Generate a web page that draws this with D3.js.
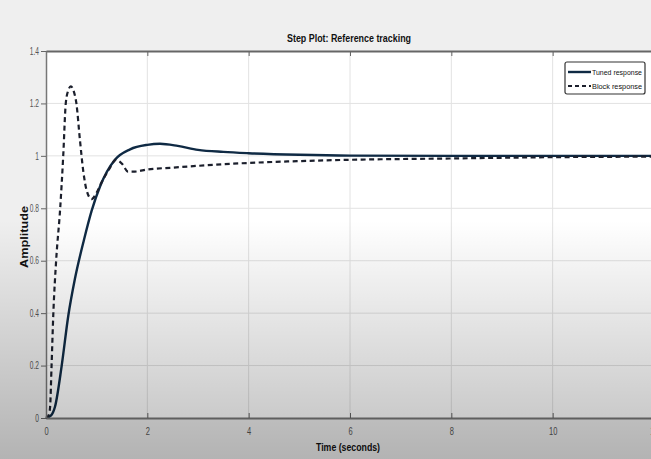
<!DOCTYPE html>
<html>
<head>
<meta charset="utf-8">
<script src="https://cdn.jsdelivr.net/npm/d3@7"></script>
<style>
  html, body { margin: 0; padding: 0; background: #efefef; }
  svg { display: block; font-family: "Liberation Sans", Arial, sans-serif; }
</style>
</head>
<body>
<div id="chart"></div>
<script>
// step response values
var tunedTime = [0, 0.1, 0.18, 0.31, 0.44, 0.57, 0.75, 0.9, 1.07, 1.36, 1.66, 2.0, 2.25, 2.6, 3.0, 3.5, 4.0, 5.0, 6.0, 8.0, 10.0, 12.0];
var tunedAmp  = [0, 0.01, 0.045, 0.2, 0.39, 0.53, 0.68, 0.79, 0.885, 0.985, 1.025, 1.042, 1.046, 1.038, 1.023, 1.015, 1.01, 1.004, 1.001, 1.0, 1.0, 1.0];

var blockTime = [0, 0.05, 0.08, 0.11, 0.145, 0.2, 0.28, 0.34, 0.39, 0.44, 0.49, 0.55, 0.6, 0.67, 0.74, 0.8, 0.9, 1.0, 1.1, 1.25, 1.38, 1.5, 1.62, 1.75, 2.0, 2.5, 3.0, 4.0, 5.0, 6.0, 8.0, 10.0, 12.0];
var blockAmp  = [0, 0.01, 0.04, 0.2, 0.4, 0.6, 0.8, 1.0, 1.2, 1.25, 1.265, 1.245, 1.2, 1.06, 0.935, 0.87, 0.835, 0.86, 0.9, 0.95, 0.985, 0.97, 0.94, 0.94, 0.948, 0.955, 0.962, 0.973, 0.98, 0.985, 0.99, 0.995, 0.997];

var xTicks = [0, 2, 4, 6, 8, 10, 12];
var yTicks = [0, 0.2, 0.4, 0.6, 0.8, 1, 1.2, 1.4];
var seriesNames = ["Tuned response", "Block response"];

var width = 651, height = 459;
var margin = { top: 51, right: -3, bottom: 41, left: 46 };

var svg = d3.select("#chart").append("svg")
    .attr("width", width)
    .attr("height", height);

var defs = svg.append("defs");
var shade = defs.append("linearGradient")
    .attr("id", "shade").attr("x1", 0).attr("y1", 0).attr("x2", 0).attr("y2", 1);
shade.append("stop").attr("offset", "0%").attr("stop-color", "#000").attr("stop-opacity", 0);
shade.append("stop").attr("offset", "48%").attr("stop-color", "#000").attr("stop-opacity", 0);
shade.append("stop").attr("offset", "100%").attr("stop-color", "#000").attr("stop-opacity", 0.25);

var x = d3.scaleLinear().domain([0, 12]).range([margin.left, width - margin.right]);
var y = d3.scaleLinear().domain([0, 1.4]).range([height - margin.bottom, margin.top]);

// page + plot background
svg.append("rect").attr("width", width).attr("height", height).attr("fill", "#efefef");
svg.append("rect")
    .attr("x", x(0)).attr("y", y(1.4))
    .attr("width", x(12) - x(0)).attr("height", y(0) - y(1.4))
    .attr("fill", "#ffffff");

// grid
svg.append("g").selectAll("line").data(xTicks.slice(1)).enter().append("line")
    .attr("x1", d => x(d)).attr("x2", d => x(d))
    .attr("y1", y(1.4)).attr("y2", y(0))
    .attr("stroke", "#e2e2e2").attr("stroke-width", 1);
svg.append("g").selectAll("line").data(yTicks.slice(1, -1)).enter().append("line")
    .attr("x1", x(0)).attr("x2", x(12))
    .attr("y1", d => y(d)).attr("y2", d => y(d))
    .attr("stroke", "#e2e2e2").attr("stroke-width", 1);

// curves
var line = d3.line()
    .x(d => x(d[0]))
    .y(d => y(d[1]))
    .curve(d3.curveMonotoneX);

var tunedData = tunedTime.map((t, i) => [t, tunedAmp[i]]);
var blockData = blockTime.map((t, i) => [t, blockAmp[i]]);

svg.append("path")
    .datum(tunedData)
    .attr("d", line)
    .attr("fill", "none")
    .attr("stroke", "#0f2a44")
    .attr("stroke-width", 2.4);

svg.append("path")
    .datum(blockData)
    .attr("d", line)
    .attr("fill", "none")
    .attr("stroke", "#1b1f2c")
    .attr("stroke-width", 2.2)
    .attr("stroke-dasharray", "5,3.5");

// squeeze tick text sideways like the source
function narrow(sel, k) {
    sel.each(function() {
        var w = this.getComputedTextLength();
        d3.select(this).attr("textLength", w * k).attr("lengthAdjust", "spacingAndGlyphs");
    });
}

// axes
var xAxis = svg.append("g")
    .attr("transform", "translate(0," + y(0) + ")")
    .call(d3.axisBottom(x).tickValues(xTicks).tickSizeInner(-5).tickSizeOuter(0).tickPadding(10).tickFormat(d3.format("d")));
xAxis.select(".domain").attr("stroke", "#777").attr("stroke-width", 2);
xAxis.selectAll(".tick line").attr("stroke", "#666");
xAxis.selectAll("text").attr("fill", "#555").style("font-size", "10px").call(narrow, 0.75);

var xTop = svg.append("g")
    .attr("transform", "translate(0," + y(1.4) + ")")
    .call(d3.axisTop(x).tickValues(xTicks).tickSizeInner(-5).tickSizeOuter(0).tickFormat(""));
xTop.select(".domain").attr("stroke", "#666").attr("stroke-width", 2);
xTop.selectAll(".tick line").attr("stroke", "#666");

var yAxis = svg.append("g")
    .attr("transform", "translate(" + x(0) + ",0)")
    .call(d3.axisLeft(y).tickValues(yTicks).tickSizeInner(5).tickSizeOuter(0).tickPadding(2).tickFormat(d3.format("~g")));
yAxis.select(".domain").attr("stroke", "#777").attr("stroke-width", 1.5);
yAxis.selectAll(".tick line").attr("stroke", "#666");
yAxis.selectAll("text").attr("fill", "#555").style("font-size", "10px").call(narrow, 0.66);

// labels (the source is squeezed sideways, so widths are fixed)
svg.append("text")
    .attr("x", 349).attr("y", 42)
    .attr("text-anchor", "middle")
    .attr("textLength", 124).attr("lengthAdjust", "spacingAndGlyphs")
    .style("font-size", "11px").style("font-weight", "bold")
    .attr("fill", "#111")
    .text("Step Plot: Reference tracking");

svg.append("text")
    .attr("x", 348).attr("y", 451)
    .attr("text-anchor", "middle")
    .attr("textLength", 64).attr("lengthAdjust", "spacingAndGlyphs")
    .style("font-size", "10px").style("font-weight", "bold")
    .attr("fill", "#111")
    .text("Time (seconds)");

svg.append("text")
    .attr("transform", "translate(28,237) rotate(-90)")
    .attr("text-anchor", "middle")
    .attr("textLength", 62).attr("lengthAdjust", "spacingAndGlyphs")
    .style("font-size", "10.5px").style("font-weight", "bold")
    .attr("fill", "#111")
    .text("Amplitude");

// legend
var legend = svg.append("g").attr("transform", "translate(565,62)");
legend.append("rect")
    .attr("width", 80).attr("height", 32).attr("rx", 2)
    .attr("fill", "#fff").attr("stroke", "#333").attr("stroke-width", 1.2);
var styles = [{ dash: null, w: 2.4, c: "#0f2a44" }, { dash: "4,3", w: 2.2, c: "#1b1f2c" }];
seriesNames.forEach(function(name, i) {
    var yy = 10 + i * 14;
    legend.append("line")
        .attr("x1", 3).attr("x2", 26).attr("y1", yy).attr("y2", yy)
        .attr("stroke", styles[i].c).attr("stroke-width", styles[i].w)
        .attr("stroke-dasharray", styles[i].dash);
    legend.append("text")
        .attr("x", 27).attr("y", yy + 3)
        .attr("textLength", 50).attr("lengthAdjust", "spacingAndGlyphs")
        .style("font-size", "8px")
        .attr("fill", "#111")
        .text(name);
});

// darkening toward the bottom, as in the reference
svg.append("rect").attr("width", width).attr("height", height)
    .attr("fill", "url(#shade)").attr("pointer-events", "none");
</script>
</body>
</html>
